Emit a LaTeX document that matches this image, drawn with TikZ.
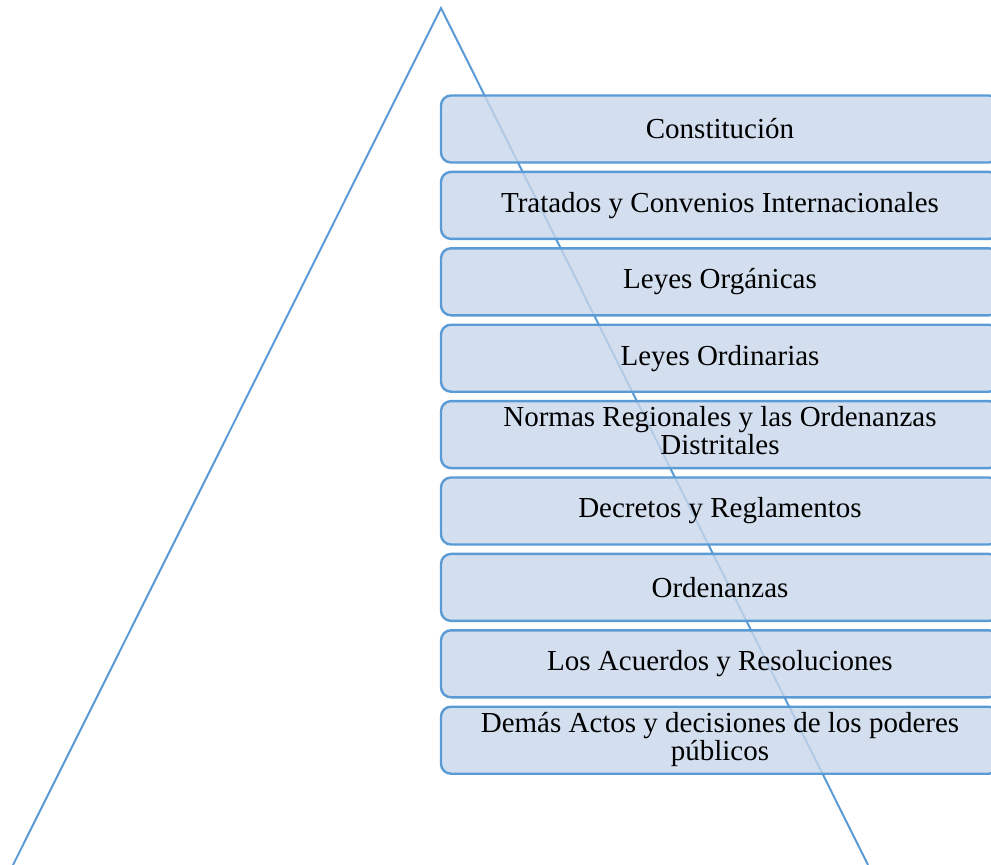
\documentclass[tikz,border=0pt]{standalone}
\usepackage{fontspec}
\setmainfont{Liberation Serif}
\usepackage{xcolor}
\usepackage{tikz}
\usetikzlibrary{positioning}
\definecolor{lineblue}{RGB}{91,155,213}
\definecolor{boxfill}{RGB}{200,214,235}
\tikzset{
    block/.style={
           rectangle,
           rounded corners=10pt,
           draw=lineblue, line width=2.4pt,
           fill=boxfill, fill opacity=0.8, text opacity=1,
           minimum width=558pt,
           minimum height=67pt,
           inner sep=2pt,
           text centered,
           font=\fontsize{29}{27}\selectfont,
           },
     side/.style={
           draw=lineblue, line width=2pt,
           },
}

\begin{document}
\begin{tikzpicture}[x=1pt,y=-1pt,node distance=7pt]
	\clip (0,0) rectangle (991,865);
	% pyramid
	\coordinate (top) at (441,8);
	\coordinate (bl) at (13,865);
	\coordinate (br) at (868,865);
	\draw[side] (bl) -- (top) -- (br);

	\node[block] (cons) at (720,129) {Constitución};
	\node[block, below=of cons] (trat) {Tratados y Convenios Internacionales};
	\node[block, below=of trat] (org) {Leyes Orgánicas};
	\node[block, below=of org] (ord) {Leyes Ordinarias};
	\node[block, below=of ord] (norm) {
		\begin{tabular}{c}
		Normas Regionales y las Ordenanzas\\
		Distritales
		\end{tabular}
	};
	\node[block, below=of norm] (decr) {Decretos y Reglamentos};
	\node[block, below=of decr] (orde) {Ordenanzas};
	\node[block, below=of orde] (acu) {Los Acuerdos y Resoluciones};
	\node[block, below=of acu] (dem) {
		\begin{tabular}{c}
		Demás Actos y decisiones de los poderes\\
		públicos
		\end{tabular}
	};
\end{tikzpicture}
\end{document}
